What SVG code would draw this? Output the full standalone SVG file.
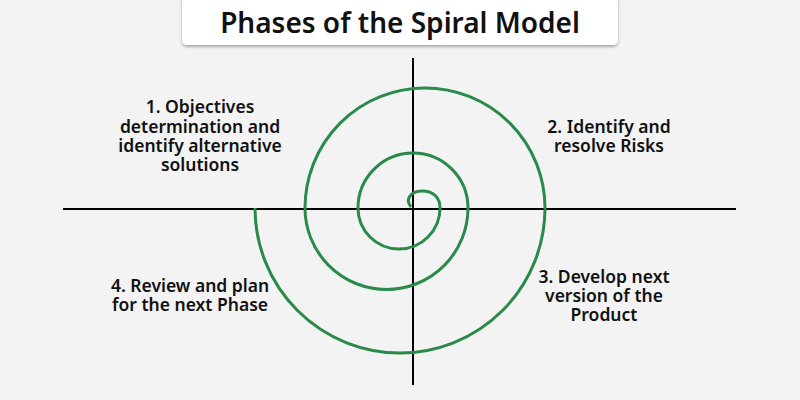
<svg xmlns="http://www.w3.org/2000/svg" width="800" height="400" viewBox="0 0 800 400">
<defs>
<style>
.t{font-family:"Noto Sans","Open Sans",sans-serif;font-weight:600;font-size:17.5px;fill:#111;text-anchor:middle}
.ax{stroke:#000;stroke-width:2}
.sp{fill:none;stroke:#2a8a4a;stroke-width:3}
</style>
<filter id="sh" x="-5%" y="-20%" width="110%" height="150%"><feDropShadow dx="0" dy="2" stdDeviation="1.5" flood-opacity="0.3"/></filter>
</defs>
<rect width="800" height="400" fill="#f3f3f3"/>
<g id="title">
<rect x="182" y="-6" width="436" height="51" rx="5" fill="#fff" filter="url(#sh)"/>
<text x="400" y="33" style="font-family:'Noto Sans','Open Sans',sans-serif;font-weight:600;font-size:28px;fill:#111;text-anchor:middle">Phases of the Spiral Model</text>
</g>
<g id="connectors">
<line class="ax" x1="63" y1="209" x2="736" y2="209"/>
<line class="ax" x1="413" y1="58" x2="413" y2="385"/>
<path class="sp" d="M411,207 C405,200 410,191 422,191 C434,191 440,198 440,208 A41,41 0 0 1 358,208 A55,55 0 0 1 468,208 A81.5,81.5 0 0 1 305,208 A120,120 0 0 1 545,208 A145,145 0 0 1 255,208"/>
</g>
<g id="phase1">
<text class="t" x="200" y="113">1. Objectives</text>
<text class="t" x="200" y="133">determination and</text>
<text class="t" x="200" y="152">identify alternative</text>
<text class="t" x="200" y="171">solutions</text>
</g>
<g id="phase2">
<text class="t" x="609" y="133">2. Identify and</text>
<text class="t" x="609" y="152">resolve Risks</text>
</g>
<g id="phase3">
<text class="t" x="604" y="283">3. Develop next</text>
<text class="t" x="604" y="302">version of the</text>
<text class="t" x="604" y="321">Product</text>
</g>
<g id="phase4">
<text class="t" x="190" y="292">4. Review and plan</text>
<text class="t" x="190" y="311">for the next Phase</text>
</g>
</svg>
